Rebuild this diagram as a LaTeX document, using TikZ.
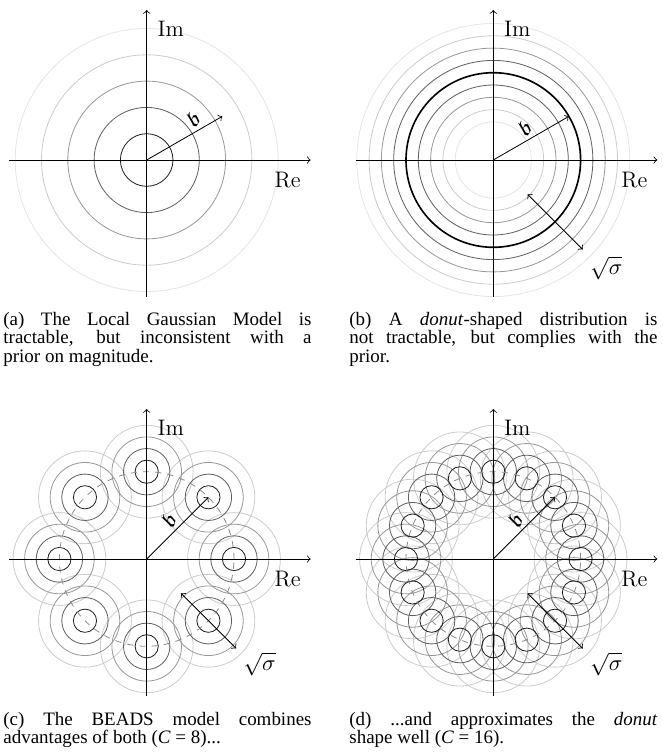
\documentclass[tikz,border=0pt]{standalone}
\usepackage{amssymb}
\usepackage{fontspec}
\newfontfamily\capfont{Liberation Serif}
\usetikzlibrary{positioning}
\definecolor{ringone}{gray}{0.12}
\definecolor{ringtwo}{gray}{0.38}
\definecolor{ringthree}{gray}{0.6}
\definecolor{ringfour}{gray}{0.8}
\definecolor{ringfive}{gray}{0.9}
\definecolor{dashgrey}{gray}{0.55}
\tikzset{
  r1/.style={draw=ringone},
  r2/.style={draw=ringtwo},
  r3/.style={draw=ringthree},
  r4/.style={draw=ringfour},
  r5/.style={draw=ringfive},
  axis/.style={->},
  ring/.style={draw=dashgrey,dashed},
  lbl/.style={font=\fontsize{11}{13}\selectfont,inner sep=2pt},
  captext/.style={text width=151pt,align=justify,inner sep=0pt,anchor=base west,
              font=\capfont\fontsize{9.3}{9.1}\selectfont},
}

\begin{document}
\begin{tikzpicture}[x=0.49pt,y=0.49pt]
\useasboundingbox (0,0) rectangle (663,-753);

% (a) Local Gaussian model
\begin{scope}[shift={(146.7,-160)}]
  \foreach \k/\s in {5/r5,4/r4,3/r3,2/r2,1/r1}
    \draw[\s] (0,0) circle [radius=26.3*\k];
  \coordinate (oA) at (0,0);
  \coordinate (wA) at (-137.5,0);
  \coordinate (eA) at (164,0);
  \coordinate (sA) at (0,-137);
  \coordinate (nA) at (0,150);
  \coordinate (bA) at (30:87.3);
  \draw[axis] (wA) -- (eA);
  \draw[axis] (sA) -- (nA);
  \draw[axis] (oA) -- node[lbl,pos=.7,above,sloped]{$\mathfrak{b}$} (bA);
  \node[lbl] (imA) at (24,131) {Im};
  \node[lbl] (reA) at (141,-20) {Re};
\end{scope}

% (b) donut
\begin{scope}[shift={(493.3,-160)}]
  \foreach \k/\s in {4/r5,3/r4,2/r3,1/r2}{
    \draw[\s] (0,0) circle [radius=87.3+12.3*\k];
    \draw[\s] (0,0) circle [radius=87.3-12.3*\k];
  }
  \draw[thick] (0,0) circle [radius=87.3];
  \coordinate (oB) at (0,0);
  \coordinate (wB) at (-137.5,0);
  \coordinate (eB) at (164,0);
  \coordinate (sB) at (0,-137);
  \coordinate (nB) at (0,150);
  \coordinate (bB) at (30:87.3);
  \coordinate (pB) at (-45:48.5);
  \coordinate (qB) at (-45:126.5);
  \draw[axis] (wB) -- (eB);
  \draw[axis] (sB) -- (nB);
  \draw[axis] (oB) -- node[lbl,midway,above,sloped]{$\mathfrak{b}$} (bB);
  \draw[<->] (pB) -- (qB);
  \node[lbl] (imB) at (24,131) {Im};
  \node[lbl] (reB) at (141,-20) {Re};
  \node[lbl] (sgB) at (113,-108) {$\sqrt{\sigma}$};
\end{scope}

% (c) BEADS, C = 8
\begin{scope}[shift={(146.7,-559)}]
  \foreach \k/\s in {4/r4,3/r3,2/r2,1/r1}
    \foreach \a in {0,45,...,315}
      \draw[\s] (\a:87.3) circle [radius=11.6*\k];
  \draw[ring] (0,0) circle [radius=87.3];
  \coordinate (oC) at (0,0);
  \coordinate (wC) at (-137.5,0);
  \coordinate (eC) at (164,0);
  \coordinate (sC) at (0,-137);
  \coordinate (nC) at (0,150);
  \coordinate (bC) at (45:87.3);
  \coordinate (pC) at (-45:48.5);
  \coordinate (qC) at (-45:126.5);
  \draw[axis] (wC) -- (eC);
  \draw[axis] (sC) -- (nC);
  \draw[axis] (oC) -- node[lbl,midway,above,sloped]{$\mathfrak{b}$} (bC);
  \draw[<->] (pC) -- (qC);
  \node[lbl] (imC) at (24,131) {Im};
  \node[lbl] (reC) at (141,-20) {Re};
  \node[lbl] (sgC) at (113,-105) {$\sqrt{\sigma}$};
\end{scope}

% (d) BEADS, C = 16
\begin{scope}[shift={(493.3,-559)}]
  \foreach \k/\s in {4/r4,3/r3,2/r2,1/r1}
    \foreach \a in {0,22.5,...,337.5}
      \draw[\s] (\a:87.3) circle [radius=11.6*\k];
  \draw[ring] (0,0) circle [radius=87.3];
  \coordinate (oD) at (0,0);
  \coordinate (wD) at (-137.5,0);
  \coordinate (eD) at (164,0);
  \coordinate (sD) at (0,-137);
  \coordinate (nD) at (0,150);
  \coordinate (bD) at (45:87.3);
  \coordinate (pD) at (-45:48.5);
  \coordinate (qD) at (-45:126.5);
  \draw[axis] (wD) -- (eD);
  \draw[axis] (sD) -- (nD);
  \draw[axis] (oD) -- node[lbl,midway,above,sloped]{$\mathfrak{b}$} (bD);
  \draw[<->] (pD) -- (qD);
  \node[lbl] (imD) at (24,131) {Im};
  \node[lbl] (reD) at (141,-20) {Re};
  \node[lbl] (sgD) at (113,-105) {$\sqrt{\sigma}$};
\end{scope}

% captions
\node[captext] (capA) at (3,-325) {(a) The Local Gaussian Model is\linebreak
  tractable, but inconsistent with a\linebreak prior on magnitude.};
\node[captext] (capB) at (349,-325) {(b) A \textit{donut}-shaped distribution is\linebreak
  not tractable, but complies with the\linebreak prior.};
\node[captext] (capC) at (3,-725) {(c) The BEADS model combines\linebreak
  advantages of both (\textit{C} = 8)...};
\node[captext] (capD) at (349,-725) {(d) ...and approximates the \textit{donut}\linebreak
  shape well (\textit{C} = 16).};

\end{tikzpicture}
\end{document}
